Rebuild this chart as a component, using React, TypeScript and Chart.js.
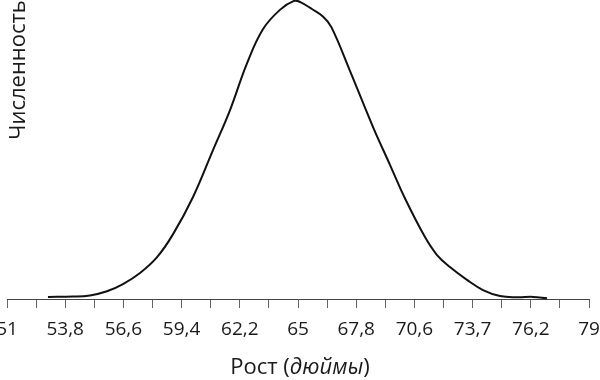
import React, { useEffect, useRef } from "react";
import { Chart, registerables } from "chart.js";

Chart.register(...registerables);

// Height in inches (x) and relative count (y)
const heights = [
  52.97, 54.18, 54.99, 55.81, 56.58, 57.4, 58.22, 58.99, 59.95, 60.91, 61.73,
  62.55, 63.32, 64.13, 64.81, 65.11, 65.67, 66.2, 66.6, 67.5, 68.61, 69.43, 70.15,
  71.11, 71.69, 72.31, 73.13, 73.9, 74.72, 75.54, 76.31, 76.98,
];
const counts = [
  0.7, 0.8, 1.2, 2.6, 5.0, 8.7, 14.0, 21.7, 34.1, 49.8, 63.2,
  78.9, 90.3, 96.7, 99.7, 99.3, 97.0, 94.5, 91.0, 76.3, 57.5, 44.8, 33.6,
  20.7, 14.7, 10.7, 6.4, 3.0, 1.0, 0.6, 0.7, 0.25,
];

const tickValues = [
  51, 52.4, 53.8, 55.2, 56.6, 58, 59.4, 60.8, 62.2, 63.6, 65, 66.4, 67.8, 69.2,
  70.6, 72, 73.4, 74.8, 76.2, 77.6, 79,
];
const tickLabels = [
  "51", "", "53,8", "", "56,6", "", "59,4", "", "62,2", "", "65", "", "67,8", "",
  "70,6", "", "73,7", "", "76,2", "", "79",
];

const xTitleParts = ["Рост (", "дюймы", ")"];
const yTitle = "Численность";

const FONT = '"Open Sans", "Noto Sans", sans-serif';

const titlePlugin = {
  id: "customTitles",
  afterDraw(chart: any) {
    const ctx = chart.ctx as CanvasRenderingContext2D;
    const area = chart.chartArea;
    ctx.save();
    ctx.fillStyle = "#1a1a1a";
    ctx.textBaseline = "alphabetic";
    ctx.textAlign = "left";
    const fonts = [`22px ${FONT}`, `italic 22px ${FONT}`, `22px ${FONT}`];
    let total = 0;
    const widths: number[] = [];
    xTitleParts.forEach((p, i) => {
      ctx.font = fonts[i];
      const w = ctx.measureText(p).width;
      widths.push(w);
      total += w;
    });
    let x = (area.left + area.right) / 2 + 2 - total / 2;
    const y = 374;
    xTitleParts.forEach((p, i) => {
      ctx.font = fonts[i];
      ctx.fillText(p, x, y);
      x += widths[i];
    });

    ctx.translate(25, 70);
    ctx.rotate(-Math.PI / 2);
    ctx.textAlign = "center";
    ctx.font = `22px ${FONT}`;
    ctx.fillText(yTitle, 0, 0);
    ctx.restore();
  },
};

export default function App() {
  const canvasRef = useRef<HTMLCanvasElement | null>(null);

  useEffect(() => {
    if (!canvasRef.current) return;
    const chart = new Chart(canvasRef.current, {
      type: "line",
      data: {
        datasets: [
          {
            data: heights.map((h, i) => ({ x: h, y: counts[i] })),
            borderColor: "#111",
            borderWidth: 2,
            pointRadius: 0,
            fill: false,
            tension: 0.4,
          },
        ],
      },
      options: {
        animation: false,
        responsive: false,
        maintainAspectRatio: false,
        layout: { padding: 0 },
        plugins: {
          legend: { display: false },
          tooltip: { enabled: false },
          title: { display: false },
        },
        scales: {
          x: {
            type: "linear",
            min: 51,
            max: 79,
            afterBuildTicks: (axis: any) => {
              axis.ticks = tickValues.map((v) => ({ value: v }));
            },
            afterFit: (scale: any) => {
              scale.height = 81;
              scale.paddingLeft = 7;
              scale.paddingRight = 11;
            },
            ticks: {
              autoSkip: false,
              maxRotation: 0,
              minRotation: 0,
              padding: 10,
              color: "#1a1a1a",
              font: { family: FONT, size: 19 },
              callback: (_v: any, index: number) => tickLabels[index],
            },
            grid: {
              drawOnChartArea: false,
              drawTicks: true,
              tickLength: 9,
              color: "#666",
              lineWidth: 1,
            },
            border: { display: true, color: "#444", width: 1 },
            title: { display: false },
          },
          y: {
            display: false,
            min: 0,
            max: 100,
          },
        },
      },
      plugins: [titlePlugin],
    } as any);
    return () => chart.destroy();
  }, []);

  return (
    <div style={{ position: "fixed", left: 0, top: 0, width: 600, height: 380, background: "#fff" }}>
      <canvas ref={canvasRef} width={600} height={380} style={{ display: "block", width: 600, height: 380 }} />
    </div>
  );
}
